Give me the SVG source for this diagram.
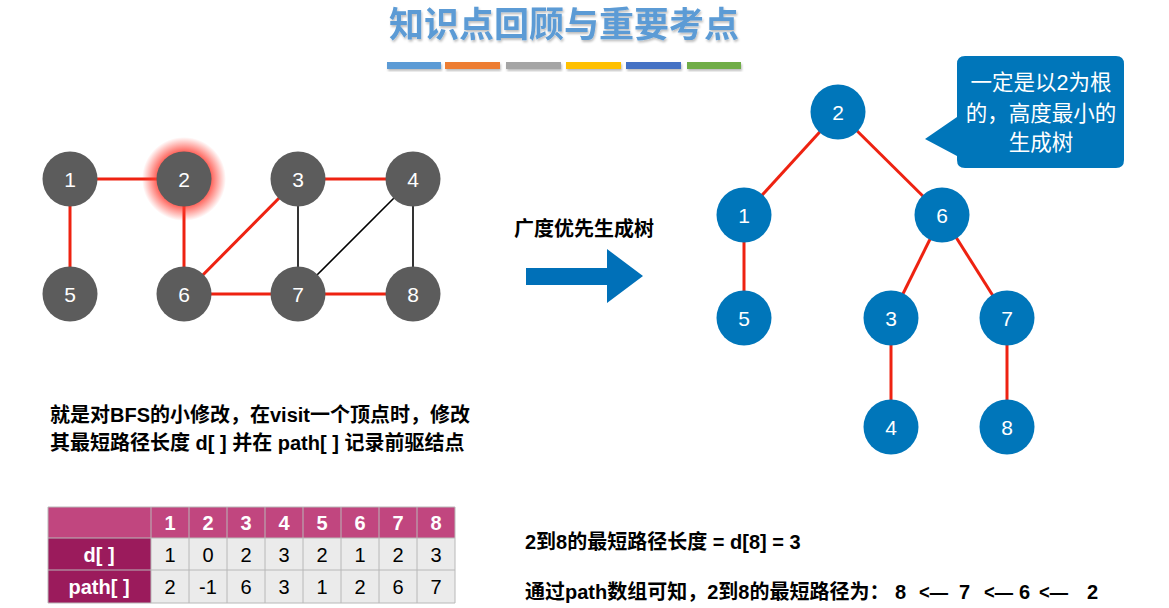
<svg xmlns="http://www.w3.org/2000/svg" width="1169" height="608" viewBox="0 0 1169 608">
<defs>
<style>
text{font-family:"Liberation Sans","Noto Sans CJK SC",sans-serif}
.title{font-size:35px;font-weight:bold;fill:#5B9BD5}
.gn{fill:#5C5C5C}
.tn{fill:#0076BA}
.nl{font-size:21px;fill:#fff;text-anchor:middle;dominant-baseline:central}
.red{stroke:#EE2211;stroke-width:3;fill:none}
.blk{stroke:#000;stroke-width:1.6;fill:none}
.txt{font-size:20px;font-weight:bold;fill:#000}
.th{font-size:20px;font-weight:bold;fill:#fff;text-anchor:middle;dominant-baseline:central}
.td{font-size:20px;fill:#000;text-anchor:middle;dominant-baseline:central}
.cb{font-size:21.5px;fill:#fff;text-anchor:middle}
</style>
<radialGradient id="glow">
<stop offset="0.6" stop-color="#FF3B30" stop-opacity="0.9"/>
<stop offset="1" stop-color="#FF3B30" stop-opacity="0"/>
</radialGradient>
<filter id="sh" x="-10%" y="-30%" width="120%" height="160%">
<feDropShadow dx="1" dy="2" stdDeviation="1.2" flood-color="#000" flood-opacity="0.25"/>
</filter>
</defs>
<rect width="1169" height="608" fill="#fff"/>
<g id="title">
<text class="title" x="564" y="37" text-anchor="middle" filter="url(#sh)">知识点回顾与重要考点</text>
<g filter="url(#sh)">
<rect x="387" y="62" width="54" height="7" fill="#5B9BD5"/>
<rect x="445" y="62" width="55" height="7" fill="#ED7D31"/>
<rect x="506" y="62" width="55" height="7" fill="#A5A5A5"/>
<rect x="566" y="62" width="55" height="7" fill="#FFC000"/>
<rect x="626" y="62" width="55" height="7" fill="#4472C4"/>
<rect x="687" y="62" width="54" height="7" fill="#70AD47"/>
</g>
</g>
<g id="connectors">
<line class="red" x1="70" y1="179" x2="184" y2="179"/>
<line class="red" x1="70" y1="179" x2="70" y2="294"/>
<line class="red" x1="184" y1="179" x2="184" y2="294"/>
<line class="red" x1="184" y1="294" x2="298" y2="179"/>
<line class="red" x1="184" y1="294" x2="413" y2="294"/>
<line class="red" x1="298" y1="179" x2="413" y2="179"/>
<line class="blk" x1="298" y1="179" x2="298" y2="294"/>
<line class="blk" x1="413" y1="179" x2="298" y2="294"/>
<line class="blk" x1="413" y1="179" x2="413" y2="294"/>
<line class="red" x1="838" y1="112" x2="744" y2="215"/>
<line class="red" x1="838" y1="112" x2="942" y2="215"/>
<line class="red" x1="744" y1="215" x2="744" y2="318"/>
<line class="red" x1="942" y1="215" x2="891" y2="318"/>
<line class="red" x1="942" y1="215" x2="1007" y2="318"/>
<line class="red" x1="891" y1="318" x2="891" y2="427"/>
<line class="red" x1="1007" y1="318" x2="1007" y2="427"/>
</g>
<circle cx="184" cy="179" r="42" fill="url(#glow)"/>
<g id="g1"><circle class="gn" cx="70" cy="179" r="27.5"/><text class="nl" x="70" y="179">1</text></g>
<g id="g2"><circle class="gn" cx="184" cy="179" r="27.5"/><text class="nl" x="184" y="179">2</text></g>
<g id="g3"><circle class="gn" cx="298" cy="179" r="27.5"/><text class="nl" x="298" y="179">3</text></g>
<g id="g4"><circle class="gn" cx="413" cy="179" r="27.5"/><text class="nl" x="413" y="179">4</text></g>
<g id="g5"><circle class="gn" cx="70" cy="294" r="27.5"/><text class="nl" x="70" y="294">5</text></g>
<g id="g6"><circle class="gn" cx="184" cy="294" r="27.5"/><text class="nl" x="184" y="294">6</text></g>
<g id="g7"><circle class="gn" cx="298" cy="294" r="27.5"/><text class="nl" x="298" y="294">7</text></g>
<g id="g8"><circle class="gn" cx="413" cy="294" r="27.5"/><text class="nl" x="413" y="294">8</text></g>
<g id="t2"><circle class="tn" cx="838" cy="112" r="27.5"/><text class="nl" x="838" y="112">2</text></g>
<g id="t1"><circle class="tn" cx="744" cy="215" r="27.5"/><text class="nl" x="744" y="215">1</text></g>
<g id="t6"><circle class="tn" cx="942" cy="215" r="27.5"/><text class="nl" x="942" y="215">6</text></g>
<g id="t5"><circle class="tn" cx="744" cy="318" r="27.5"/><text class="nl" x="744" y="318">5</text></g>
<g id="t3"><circle class="tn" cx="891" cy="318" r="27.5"/><text class="nl" x="891" y="318">3</text></g>
<g id="t7"><circle class="tn" cx="1007" cy="318" r="27.5"/><text class="nl" x="1007" y="318">7</text></g>
<g id="t4"><circle class="tn" cx="891" cy="427" r="27.5"/><text class="nl" x="891" y="427">4</text></g>
<g id="t8"><circle class="tn" cx="1007" cy="427" r="27.5"/><text class="nl" x="1007" y="427">8</text></g>
<g id="callout">
<path d="M965,56 H1116 Q1124,56 1124,64 V160 Q1124,168 1116,168 H965 Q957,168 957,160 V156 L925,139 L957,117 V64 Q957,56 965,56 Z" fill="#0076BA"/>
<text class="cb" x="1041" y="90">一定是以2为根</text>
<text class="cb" x="1041" y="121">的，高度最小的</text>
<text class="cb" x="1041" y="150">生成树</text>
</g>
<g id="bfs-arrow">
<text x="514" y="236" font-size="20" font-weight="bold">广度优先生成树</text>
<path d="M526,268 H607 V249 L643,276 L607,303 V285 H526 Z" fill="#0070B8"/>
</g>
<g id="desc">
<text class="txt" x="50" y="422">就是对BFS的小修改，在visit一个顶点时，修改</text>
<text class="txt" x="50" y="450">其最短路径长度 d[ ] 并在 path[ ] 记录前驱结点</text>
</g>
<g id="table">
<rect x="48" y="507" width="407" height="31" fill="#C1467F"/>
<rect x="48" y="538" width="103" height="65" fill="#9B1B5C"/>
<rect x="151" y="538" width="304" height="65" fill="#EBEBEB"/>
<g stroke="#B8B8B8" stroke-width="1">
<line x1="48" y1="507" x2="455" y2="507"/>
<line x1="48" y1="538" x2="455" y2="538"/>
<line x1="48" y1="570" x2="455" y2="570"/>
<line x1="48" y1="603" x2="455" y2="603"/>
<line x1="48" y1="507" x2="48" y2="603"/>
<line x1="151" y1="507" x2="151" y2="603"/>
<line x1="189" y1="507" x2="189" y2="603"/>
<line x1="227" y1="507" x2="227" y2="603"/>
<line x1="265" y1="507" x2="265" y2="603"/>
<line x1="303" y1="507" x2="303" y2="603"/>
<line x1="341" y1="507" x2="341" y2="603"/>
<line x1="379" y1="507" x2="379" y2="603"/>
<line x1="417" y1="507" x2="417" y2="603"/>
<line x1="455" y1="507" x2="455" y2="603"/>
</g>
<text class="th" x="170" y="523">1</text><text class="th" x="208" y="523">2</text><text class="th" x="246" y="523">3</text><text class="th" x="284" y="523">4</text><text class="th" x="322" y="523">5</text><text class="th" x="360" y="523">6</text><text class="th" x="398" y="523">7</text><text class="th" x="436" y="523">8</text>
<text class="th" x="99" y="555">d[ ]</text>
<text class="th" x="99" y="587">path[ ]</text>
<text class="td" x="170" y="555">1</text><text class="td" x="208" y="555">0</text><text class="td" x="246" y="555">2</text><text class="td" x="284" y="555">3</text><text class="td" x="322" y="555">2</text><text class="td" x="360" y="555">1</text><text class="td" x="398" y="555">2</text><text class="td" x="436" y="555">3</text>
<text class="td" x="170" y="587">2</text><text class="td" x="208" y="587">-1</text><text class="td" x="246" y="587">6</text><text class="td" x="284" y="587">3</text><text class="td" x="322" y="587">1</text><text class="td" x="360" y="587">2</text><text class="td" x="398" y="587">6</text><text class="td" x="436" y="587">7</text>
</g>
<g id="result">
<text class="txt" x="525" y="549">2到8的最短路径长度 = d[8] = 3</text>
<text class="txt" x="525" y="599">通过path数组可知，2到8的最短路径为：<tspan x="895">8</tspan><tspan x="919" textLength="29" lengthAdjust="spacingAndGlyphs">&lt;—</tspan><tspan x="959">7</tspan><tspan x="984" textLength="29" lengthAdjust="spacingAndGlyphs">&lt;—</tspan><tspan x="1019">6</tspan><tspan x="1039" textLength="29" lengthAdjust="spacingAndGlyphs">&lt;—</tspan><tspan x="1087">2</tspan></text>
</g>
</svg>
